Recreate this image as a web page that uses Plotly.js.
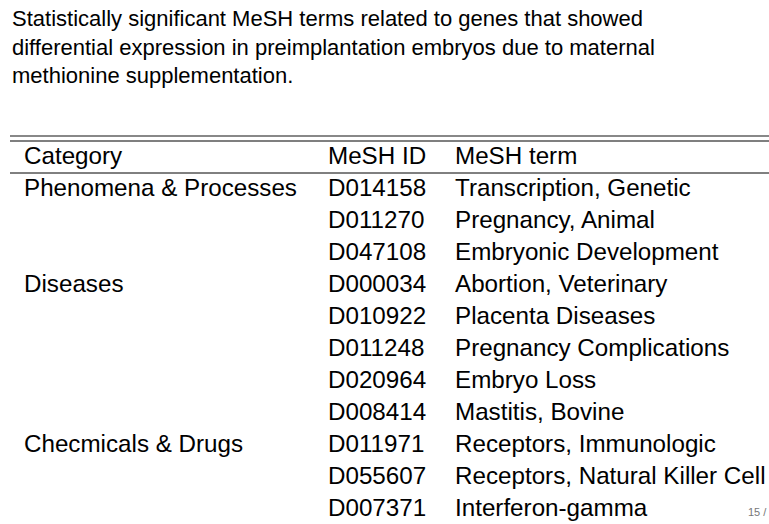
<!DOCTYPE html>
<html>
<head>
<script src="https://cdn.plot.ly/plotly-3.0.1.min.js"></script>
<style>body{margin:0;background:#fff}</style>
</head>
<body>
<div id="chart" style="width:769px;height:524px"></div>
<script>
const headers = ['Category', 'MeSH ID', 'MeSH term'];
const categories = ['Phenomena & Processes', '', '', 'Diseases', '', '', '', '', 'Checmicals & Drugs', '', ''];
const meshIds = ['D014158', 'D011270', 'D047108', 'D000034', 'D010922', 'D011248', 'D020964', 'D008414', 'D011971', 'D055607', 'D007371'];
const meshTerms = ['Transcription, Genetic', 'Pregnancy, Animal', 'Embryonic Development', 'Abortion, Veterinary',
  'Placenta Diseases', 'Pregnancy Complications', 'Embryo Loss', 'Mastitis, Bovine',
  'Receptors, Immunologic', 'Receptors, Natural Killer Cell', 'Interferon-gamma'];

const colX = [24, 328, 455];
const columns = [categories, meshIds, meshTerms];
const traces = columns.map(function (col, c) {
  const text = [headers[c]].concat(col);
  return {
    type: 'scatter', mode: 'text',
    x: text.map(function () { return colX[c]; }),
    y: text.map(function (t, i) { return i; }),
    text: text, textposition: 'middle right',
    textfont: {family: 'Liberation Sans, Arial, sans-serif', size: 24.2, color: '#000'},
    hoverinfo: 'none', showlegend: false, cliponaxis: false
  };
});

const layout = {
  width: 769, height: 524,
  margin: {l: 0, r: 0, t: 0, b: 0},
  paper_bgcolor: '#fff', plot_bgcolor: '#fff',
  xaxis: {range: [0, 769], visible: false, fixedrange: true},
  yaxis: {range: [(524 - 158) / 32, -158 / 32], visible: false, fixedrange: true},
  shapes: [
    {type: 'line', xref: 'x', yref: 'paper', x0: 10, x1: 769, y0: 1 - 136 / 524, y1: 1 - 136 / 524, line: {color: '#888', width: 2}},
    {type: 'line', xref: 'x', yref: 'paper', x0: 10, x1: 769, y0: 1 - 141 / 524, y1: 1 - 141 / 524, line: {color: '#000', width: 1.2}},
    {type: 'line', xref: 'x', yref: 'paper', x0: 10, x1: 769, y0: 1 - 173 / 524, y1: 1 - 173 / 524, line: {color: '#000', width: 1}}
  ],
  annotations: [
    {xref: 'paper', yref: 'paper', x: 10 / 769, y: 1 - 4 / 524, xanchor: 'left', yanchor: 'top', align: 'left',
      showarrow: false,
      text: 'Statistically significant MeSH terms related to genes that showed<br>differential expression in preimplantation embryos due to maternal<br>methionine supplementation.',
      font: {family: 'Liberation Sans, Arial, sans-serif', size: 22, color: '#000'}},
    {xref: 'paper', yref: 'paper', x: 1, y: 4 / 524, xanchor: 'right', yanchor: 'bottom', showarrow: false,
      text: '15 /', font: {family: 'Liberation Sans, Arial, sans-serif', size: 11, color: '#777'}}
  ]
};

Plotly.newPlot('chart', traces, layout, {displayModeBar: false, staticPlot: true});
</script>
</body>
</html>
